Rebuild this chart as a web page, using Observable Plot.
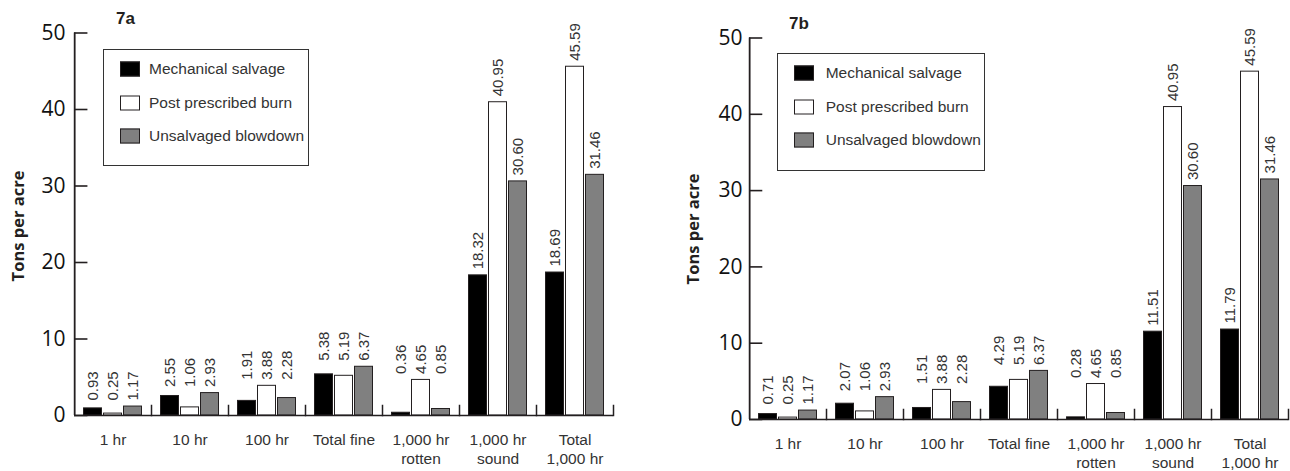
<!DOCTYPE html>
<html>
<head>
<meta charset="utf-8">
<script src="https://cdn.jsdelivr.net/npm/d3@7"></script>
<script src="https://cdn.jsdelivr.net/npm/@observablehq/plot@0.6"></script>
<style>
  body { margin: 0; background: #fff; }
  #wrap { position: relative; width: 1290px; height: 471px; overflow: hidden; background: #fff;
          font-family: "Liberation Sans", Arial, sans-serif; }
  .panel { position: absolute; top: 0; }
  .title { position: absolute; font: bold 17px "Liberation Sans", Arial, sans-serif; color: #231f20;
           transform: translate(-50%, -50%); white-space: nowrap; }
  .ylab { position: absolute; font: bold 16.5px "Open Sans", sans-serif; color: #231f20;
          transform: translate(-50%, -50%) rotate(-90deg); white-space: nowrap; }
  .legend { position: absolute; border: 1.5px solid #333; box-sizing: border-box; background: #fff; }
  .legend .sw { position: absolute; width: 20px; height: 15px; box-sizing: border-box;
                border: 1.2px solid #231f20; transform: translateY(-50%); }
  .legend .lt { position: absolute; font: 15.5px "Liberation Sans", Arial, sans-serif; color: #333;
                transform: translateY(-50%); white-space: nowrap; }
  g[aria-label="y-axis tick label"] text { font-family: "Open Sans", sans-serif; font-size: 21px; }
</style>
</head>
<body>
<div id="wrap"></div>
<script>
// ---- data ----
const categories = ["1 hr", "10 hr", "100 hr", "Total fine", "1,000 hr\nrotten", "1,000 hr\nsound", "Total\n1,000 hr"];
const series = ["Mechanical salvage", "Post prescribed burn", "Unsalvaged blowdown"];
const mechanicalA = [0.93, 2.55, 1.91, 5.38, 0.36, 18.32, 18.69];
const postBurnA   = [0.25, 1.06, 3.88, 5.19, 4.65, 40.95, 45.59];
const unsalvagedA = [1.17, 2.93, 2.28, 6.37, 0.85, 30.60, 31.46];
const mechanicalB = [0.71, 2.07, 1.51, 4.29, 0.28, 11.51, 11.79];
const postBurnB   = [0.25, 1.06, 3.88, 5.19, 4.65, 40.95, 45.59];
const unsalvagedB = [1.17, 2.93, 2.28, 6.37, 0.85, 30.60, 31.46];
const yTicks = [0, 10, 20, 30, 40, 50];
const panelTitles = ["7a", "7b"];
const yLabel = "Tons per acre";
const seriesColors = ["#000000", "#ffffff", "#808080"];

function buildRows(valueLists) {
  const rows = [];
  categories.forEach((c, i) => {
    const vals = valueLists.map(v => v[i]);
    const gmax = d3.max(vals);
    series.forEach((s, j) => {
      rows.push({category: c, series: s, value: vals[j],
                 labelY: gmax < 10 ? gmax : vals[j], label: vals[j].toFixed(2)});
    });
  });
  return rows;
}

const ink = "#231f20";
const padIn = 0.05, padOut = 0.42;

function chart(rows, L) {
  const facetW = (L.width - L.ml - L.mr) / categories.length;
  const plotH = L.height - L.mt - L.mb;
  const step = facetW / (series.length - padIn + 2 * padOut);
  const toLeftEdge = -(step * padOut + step * (1 - padIn) / 2);
  return Plot.plot({
    width: L.width, height: L.height,
    marginTop: L.mt, marginBottom: L.mb, marginLeft: L.ml, marginRight: L.mr,
    style: {fontFamily: "'Liberation Sans', Arial, sans-serif", background: "transparent", overflow: "visible", color: ink},
    fx: {domain: categories, paddingInner: 0, paddingOuter: 0, axis: null, label: null},
    x: {domain: series, paddingInner: padIn, paddingOuter: padOut, axis: null},
    y: {domain: [0, 50], label: null},
    color: {domain: series, range: seriesColors},
    marks: [
      Plot.barY(rows, {fx: "category", x: "series", y: "value", fill: "series",
                       stroke: ink, strokeWidth: 1, insetLeft: 0.5, insetRight: 0.5}),
      Plot.ruleY([0], {stroke: ink, strokeWidth: 1.6}),
      Plot.frame({anchor: "right", insetTop: plotH - 10, stroke: ink, strokeWidth: 1.5}),
      Plot.axisY({ticks: yTicks, tickSize: 0, tickPadding: L.tickPad, line: true, label: null,
                  fontSize: 21, fill: "#111", stroke: ink, strokeWidth: 1.8}),
      Plot.ruleX([categories[0]], {fx: d => d, x: () => series[0], dx: toLeftEdge, y1: 0, y2: 50,
                                   stroke: ink, strokeWidth: 1.8}),
      Plot.ruleY(yTicks, {fx: () => categories[0], insetRight: facetW - 14, stroke: ink, strokeWidth: 1.6}),
      Plot.text(rows, {fx: "category", x: "series", y: "labelY", text: "label", rotate: -90,
                       textAnchor: "start", dy: -6, fontSize: 15, fill: "#333"}),
      Plot.text(categories, {fx: d => d, text: d => d.split("\n")[0], frameAnchor: "bottom",
                             dy: L.line1, fontSize: 15.5, fill: "#333"}),
      Plot.text(categories.filter(d => d.includes("\n")), {fx: d => d, text: d => d.split("\n")[1],
                             frameAnchor: "bottom", dy: L.line2, fontSize: 15.5, fill: "#333"})
    ]
  });
}

function legend(L) {
  const box = document.createElement("div");
  box.className = "legend";
  Object.assign(box.style, {left: L.x + "px", top: L.y + "px", width: L.w + "px", height: L.h + "px"});
  series.forEach((s, j) => {
    const sw = document.createElement("div");
    sw.className = "sw";
    Object.assign(sw.style, {left: L.swX + "px", top: (L.row0 + j * L.rowStep) + "px", background: seriesColors[j]});
    const t = document.createElement("div");
    t.className = "lt";
    t.textContent = s;
    Object.assign(t.style, {left: L.textX + "px", top: (L.row0 + j * L.rowStep) + "px"});
    box.appendChild(sw); box.appendChild(t);
  });
  return box;
}

const wrap = document.getElementById("wrap");
const panels = [
  {rows: buildRows([mechanicalA, postBurnA, unsalvagedA]), left: 0,
   layout: {width: 640, height: 471, mt: 32.5, mb: 56, ml: 72, mr: 25, tickPad: 9, line1: 29, line2: 48},
   title: {x: 125.5, y: 19}, ylab: {x: 17, y: 226},
   leg: {x: 103, y: 48.5, w: 206, h: 117.5, swX: 16, textX: 45, row0: 19.5, rowStep: 33.5}},
  {rows: buildRows([mechanicalB, postBurnB, unsalvagedB]), left: 640,
   layout: {width: 650, height: 471, mt: 37.5, mb: 52, ml: 106, mr: 0, tickPad: 7, line1: 29, line2: 48},
   title: {x: 799, y: 24}, ylab: {x: 691.7, y: 229},
   leg: {x: 776.7, y: 52.7, w: 208, h: 118, swX: 16, textX: 48, row0: 19.6, rowStep: 33.4}}
];

panels.forEach((p, k) => {
  const div = document.createElement("div");
  div.className = "panel";
  div.style.left = p.left + "px";
  div.style.width = p.layout.width + "px";
  div.appendChild(chart(p.rows, p.layout));
  wrap.appendChild(div);

  const t = document.createElement("div");
  t.className = "title"; t.textContent = panelTitles[k];
  t.style.left = p.title.x + "px"; t.style.top = p.title.y + "px";
  wrap.appendChild(t);

  const yl = document.createElement("div");
  yl.className = "ylab"; yl.textContent = yLabel;
  yl.style.left = p.ylab.x + "px"; yl.style.top = p.ylab.y + "px";
  wrap.appendChild(yl);

  wrap.appendChild(legend(p.leg));
});
</script>
</body>
</html>
